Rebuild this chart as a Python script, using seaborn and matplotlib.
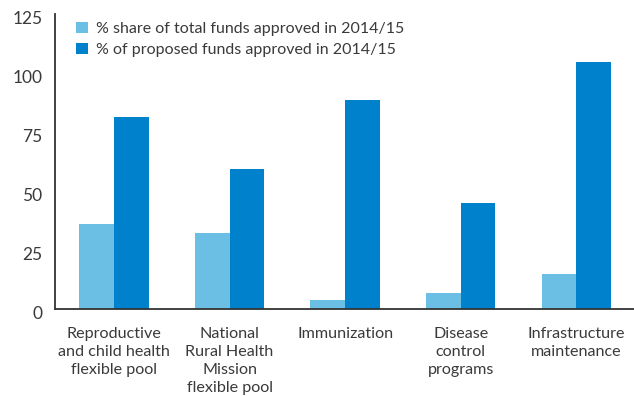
import matplotlib
matplotlib.use("Agg")
import matplotlib.pyplot as plt
import matplotlib.transforms as mtransforms
import seaborn as sns
import pandas as pd

categories = [
    "Reproductive\nand child health\nflexible pool",
    "National\nRural Health\nMission\nflexible pool",
    "Immunization",
    "Disease\ncontrol\nprograms",
    "Infrastructure\nmaintenance",
]
share_of_total = [36, 32.2, 3.8, 6.8, 14.8]
share_of_proposed = [81.4, 59.3, 88.6, 44.9, 104.7]
series_names = [
    "% share of total funds approved in 2014/15",
    "% of proposed funds approved in 2014/15",
]
yticks = [0, 25, 50, 75, 100, 125]

df = pd.DataFrame({
    "category": categories * 2,
    "value": share_of_total + share_of_proposed,
    "series": [series_names[0]] * len(categories) + [series_names[1]] * len(categories),
})

sns.set_theme(style="white")
plt.rcParams["font.family"] = ["Lato", "DejaVu Sans"]
text_color = "#3a3a3a"

fig = plt.figure(figsize=(6.34, 3.96), dpi=100)
ax = fig.add_axes([0.0868, 0.2197, 0.9132, 0.745])

palette = {series_names[0]: "#6bbfe4", series_names[1]: "#0081cc"}
sns.barplot(data=df, x="category", y="value", hue="series", palette=palette,
            width=0.6, saturation=1, ax=ax, order=categories, hue_order=series_names,
            linewidth=0, edgecolor="none")

ax.set_ylim(0, 125)
ax.set_xlim(-0.51, 4.5)
ax.set_yticks(yticks)
ax.set_yticklabels([str(t) for t in yticks], fontsize=12.5, color=text_color)
ax.tick_params(axis="y", length=0, pad=9)
ax.tick_params(axis="x", length=0, pad=13)
ax.set_xticks(range(len(categories)))
ax.set_xticklabels(categories, fontsize=11.6, color=text_color, linespacing=1.36, va="top")
ax.set_xlabel("")
ax.set_ylabel("")

# nudge the value labels slightly below their gridline positions
shift = mtransforms.ScaledTranslation(0, -4 / 100, fig.dpi_scale_trans)
for lbl in ax.get_yticklabels():
    lbl.set_transform(lbl.get_transform() + shift)

for side in ["top", "right"]:
    ax.spines[side].set_visible(False)
for side in ["left", "bottom"]:
    ax.spines[side].set_color("#333333")
    ax.spines[side].set_linewidth(1.3)

leg = ax.legend(loc="upper left", bbox_to_anchor=(0.026, 0.995), frameon=False,
                fontsize=11.5, handlelength=0.7, handleheight=0.7,
                handletextpad=0.55, labelspacing=0.45, borderaxespad=0)
for t in leg.get_texts():
    t.set_color(text_color)

fig.savefig("out.png", dpi=100)
